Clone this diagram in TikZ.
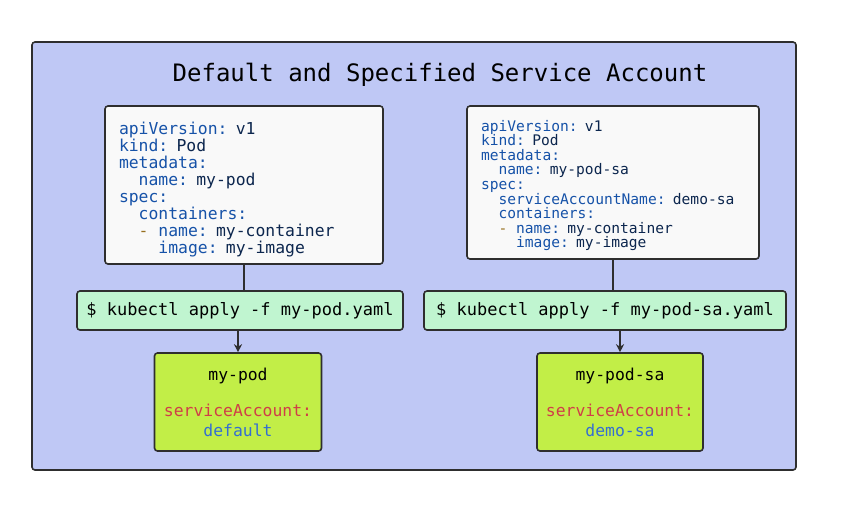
\documentclass[tikz,border=0pt]{standalone}
\usepackage{fontspec}
\newfontfamily\mono{DejaVu Sans Mono}
\usetikzlibrary{arrows.meta}
\definecolor{framefill}{RGB}{191,200,245}
\definecolor{yamlfill}{RGB}{249,249,249}
\definecolor{cmdfill}{RGB}{192,245,208}
\definecolor{podfill}{RGB}{194,238,71}
\definecolor{edge}{RGB}{46,46,46}
\definecolor{keyc}{RGB}{22,82,168}
\definecolor{valc}{RGB}{12,38,78}
\definecolor{dashc}{RGB}{150,110,30}
\definecolor{redc}{RGB}{208,62,72}
\definecolor{bluec}{RGB}{52,110,210}
\newcommand{\K}[1]{\textcolor{keyc}{#1}}
\newcommand{\V}[1]{\textcolor{valc}{#1}}
\newcommand{\ind}[1]{\hspace*{#1em}}
\begin{document}
\begin{tikzpicture}[x=1pt,y=-1pt,
  box/.style={draw=edge,line width=1.6pt,rounded corners=3pt,inner sep=0pt},
  yamlbox/.style={box,fill=yamlfill,align=left,inner xsep=14pt,anchor=center},
  cmdbox/.style={box,fill=cmdfill,font=\mono\fontsize{17}{20}\selectfont},
  podbox/.style={box,fill=podfill,align=center,font=\mono\fontsize{16.4}{20}\selectfont},
  conn/.style={draw=edge,line width=1.8pt}]
\useasboundingbox (0,0) rectangle (842,507);
\node[box,fill=framefill,minimum width=764pt,minimum height=428pt] (frame) at (414,256) {};
\node[font=\mono\fontsize{24}{28}\selectfont,text=black] (title) at (440,75) {Default and Specified Service Account};
% left column
\node[yamlbox,font=\mono\fontsize{16.4}{17}\selectfont,text width=250pt,minimum height=158pt] (yamlL) at (244,185)
{\rule{0pt}{22.5pt}\K{apiVersion:} \V{v1}\\
 \K{kind:} \V{Pod}\\
 \K{metadata:}\\
 \ind{1.204}\K{name:} \V{my-pod}\\
 \K{spec:}\\
 \ind{1.204}\K{containers:}\\
 \ind{1.204}\textcolor{dashc}{-}\ind{0.602}\K{name:} \V{my-container}\\
 \ind{2.408}\K{image:} \V{my-image}};
\node[cmdbox,minimum width=326pt,minimum height=39pt] (cmdL) at (240,310.5) {\$ kubectl apply -f my-pod.yaml};
\node[podbox,minimum width=167pt,minimum height=98pt] (podL) at (238,402)
{my-pod\\[16pt]\textcolor{redc}{serviceAccount:}\\\textcolor{bluec}{default}};
% right column
\node[yamlbox,font=\mono\fontsize{14.6}{14.6}\selectfont,text width=264pt,minimum height=153pt] (yamlR) at (613,182.5)
{\rule{0pt}{17pt}\K{apiVersion:} \V{v1}\\
 \K{kind:} \V{Pod}\\
 \K{metadata:}\\
 \ind{1.204}\K{name:} \V{my-pod-sa}\\
 \K{spec:}\\
 \ind{1.204}\K{serviceAccountName:} \V{demo-sa}\\
 \ind{1.204}\K{containers:}\\
 \ind{1.204}\textcolor{dashc}{-}\ind{0.602}\K{name:} \V{my-container}\\
 \ind{2.408}\K{image:} \V{my-image}};
\node[cmdbox,minimum width=362pt,minimum height=39pt] (cmdR) at (605,310.5) {\$ kubectl apply -f my-pod-sa.yaml};
\node[podbox,minimum width=166pt,minimum height=98pt] (podR) at (620,402)
{my-pod-sa\\[16pt]\textcolor{redc}{serviceAccount:}\\\textcolor{bluec}{demo-sa}};
% connectors
\draw[conn] (yamlL.south) -- (yamlL.south |- cmdL.north);
\draw[draw=edge,line width=2pt,-{Stealth[length=8pt,width=8pt]}] (podL.north |- cmdL.south) -- (podL.north);
\draw[conn] (yamlR.south) -- (yamlR.south |- cmdR.north);
\draw[draw=edge,line width=2pt,-{Stealth[length=8pt,width=8pt]}] (podR.north |- cmdR.south) -- (podR.north);
\end{tikzpicture}
\end{document}
